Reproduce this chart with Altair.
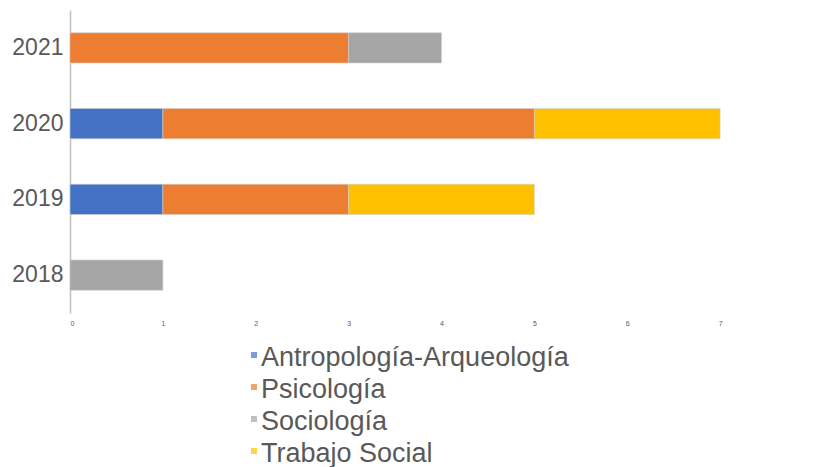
import altair as alt
import pandas as pd

years = ["2021", "2020", "2019", "2018"]
careers = ["Antropología-Arqueología", "Psicología", "Sociología", "Trabajo Social"]
colors = ["#4472C4", "#ED7D31", "#A5A5A5", "#FFC000"]

antropologia = [0, 1, 1, 0]
psicologia = [3, 4, 2, 0]
sociologia = [1, 0, 0, 1]
trabajo_social = [0, 2, 2, 0]

series = [antropologia, psicologia, sociologia, trabajo_social]
rows = []
for ci, (career, vals) in enumerate(zip(careers, series)):
    for y, v in zip(years, vals):
        if v > 0:
            rows.append({"year": y, "career": career, "value": v, "order": ci})
df = pd.DataFrame(rows)
legend_df = pd.DataFrame({"career": careers})

color_scale = alt.Scale(domain=careers, range=colors)

bars = alt.Chart(df).mark_bar(stroke="#D0D0D0", strokeWidth=0.6).encode(
    y=alt.Y("year:N", sort=years, title=None,
            scale=alt.Scale(paddingInner=0.6, paddingOuter=0.3),
            axis=alt.Axis(labelFontSize=23, labelColor="#595959", labelFont="Liberation Sans",
                          labelPadding=7, ticks=False, domainColor="#BFBFBF", domainWidth=1.5)),
    x=alt.X("value:Q", title=None, stack="zero",
            scale=alt.Scale(domain=[0, 8], nice=False, range=[0, 743]),
            axis=alt.Axis(values=list(range(9)), labelFontSize=7, labelColor="#595959",
                          labelFont="Liberation Sans", grid=False, domain=False, ticks=False,
                          labelPadding=6)),
    color=alt.Color("career:N", sort=careers, scale=color_scale, legend=None),
    order=alt.Order("order:Q"),
)

legend_symbols = alt.Chart(legend_df).mark_square(size=36).encode(
    x=alt.value(184),
    y=alt.Y("career:N", sort=careers, axis=None,
            scale=alt.Scale(type="point", domain=careers, range=[345, 441], padding=0)),
    color=alt.Color("career:N", scale=color_scale, legend=None),
)

legend_labels = alt.Chart(legend_df).mark_text(
    align="left", baseline="alphabetic", fontSize=27, font="Liberation Sans", color="#595959"
).encode(
    x=alt.value(191),
    y=alt.Y("career:N", sort=careers, axis=None,
            scale=alt.Scale(type="point", domain=careers, range=[356, 452], padding=0)),
    text="career:N",
)

chart = alt.layer(bars, legend_symbols, legend_labels).resolve_scale(
    y="independent"
).properties(
    width=737, height=303,
    autosize=alt.AutoSizeParams(type="none"),
    padding={"left": 62, "top": 2, "right": 0, "bottom": 160},
).configure_view(stroke=None)

chart.save("out.html", embed_options={"renderer": "svg", "actions": False})
